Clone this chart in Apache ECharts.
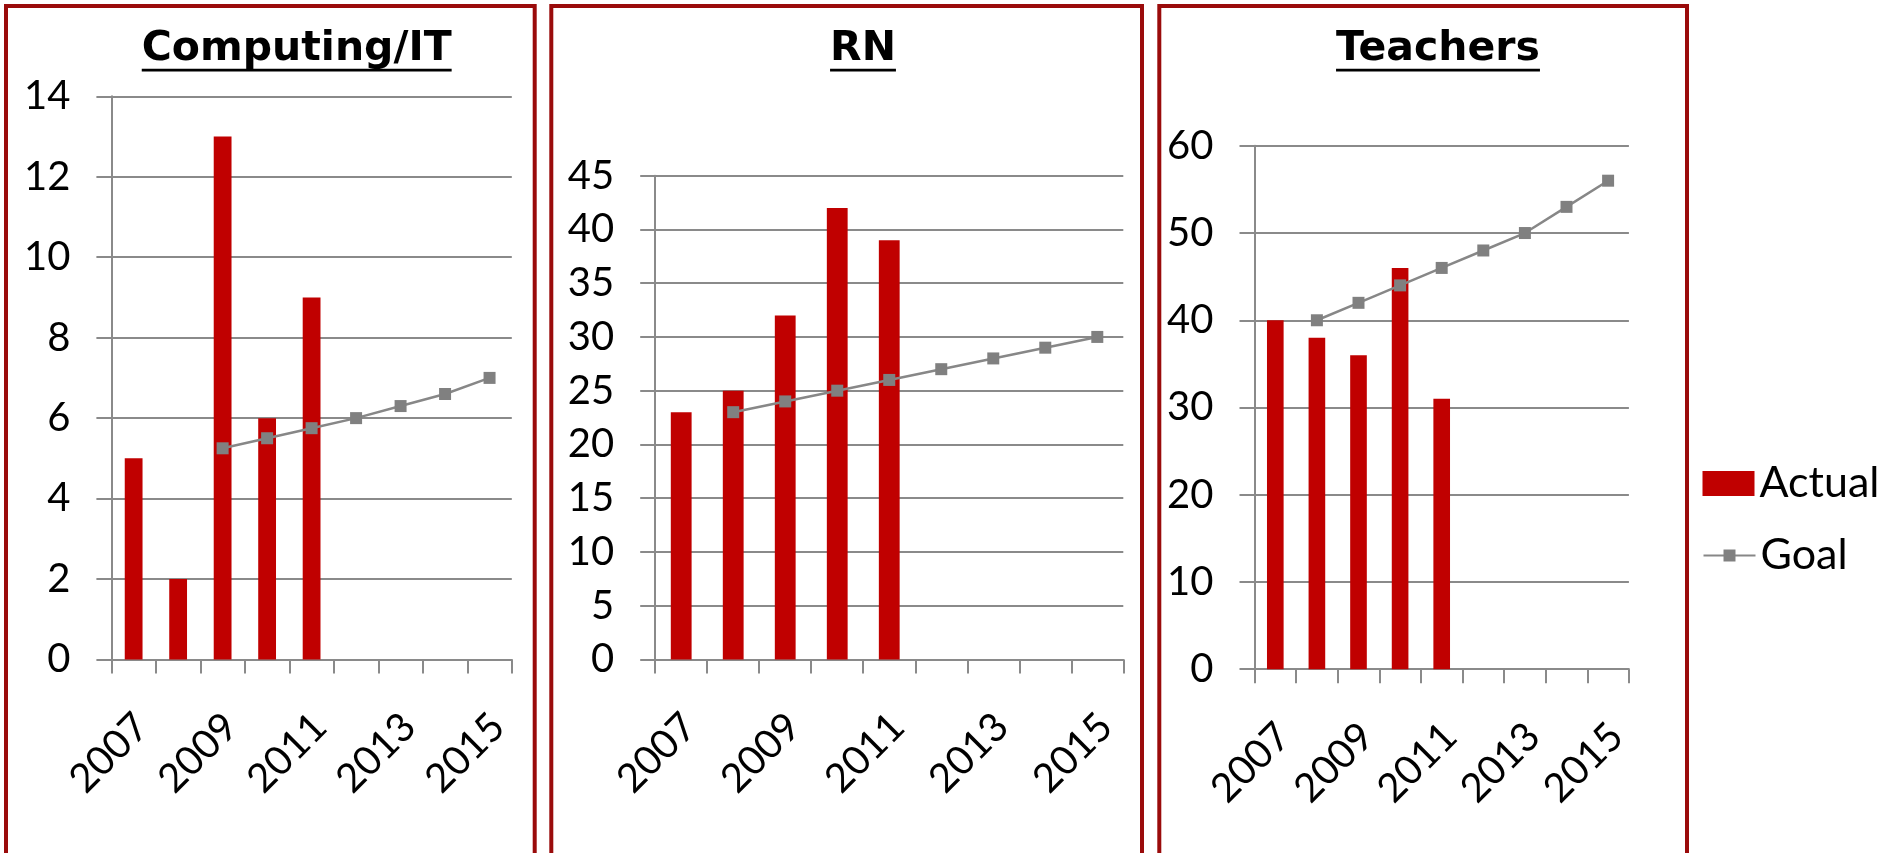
<!DOCTYPE html>
<html><head><meta charset="utf-8">
<script src="https://cdn.jsdelivr.net/npm/echarts@6/dist/echarts.min.js"></script>
<style>html,body{margin:0;padding:0;background:#fff}#c{width:1895px;height:853px}</style>
</head><body><div id="c"></div>
<script>
// ---- data ----
const years = ['2007','2008','2009','2010','2011','2012','2013','2014','2015'];
const panelTitles = ['Computing/IT', 'RN', 'Teachers'];
const computingActual = [5, 2, 13, 6, 9];
const computingGoal = [null, null, 5.25, 5.5, 5.75, 6, 6.3, 6.6, 7];
const rnActual = [23, 25, 32, 42, 39];
const rnGoal = [null, 23, 24, 25, 26, 27, 28, 29, 30];
const teachersActual = [40, 38, 36, 46, 31];
const teachersGoal = [null, 40, 42, 44, 46, 48, 50, 53, 56];
const yMax = [14, 45, 60];
const yStep = [2, 5, 10];
const seriesNames = ['Actual', 'Goal'];

// ---- layout / style ----
const grids = [
  {left: 111.4, top: 96.3, width: 400.4, height: 563.2},
  {left: 655.2, top: 175.7, width: 468.1, height: 483.7},
  {left: 1254.5, top: 145.8, width: 374.4, height: 523.4}
];
const panels = [[6, 528.7], [551.3, 590.7], [1159.3, 527.7]];
const titleCenters = [296.7, 863, 1438];
const gray = '#8a8a8a';
const labelFont = 'Lato, "Noto Sans", sans-serif';
const titleFont = '"DejaVu Sans", sans-serif';
const titleSize = 41;

const actuals = [computingActual, rnActual, teachersActual];
const goals = [computingGoal, rnGoal, teachersGoal];

const xAxes = [], yAxes = [], series = [];
grids.forEach((g, i) => {
  xAxes.push({
    type: 'category', gridIndex: i, data: years, boundaryGap: true,
    axisLine: {show: true, lineStyle: {color: gray, width: 2}},
    axisTick: {show: true, interval: 0, length: 14, lineStyle: {color: gray, width: 2}},
    axisLabel: {interval: 1, rotate: 45, fontSize: 40, fontFamily: labelFont, color: '#000',
      margin: 41, align: 'right', verticalAlign: 'top', padding: [0, 8, 0, 0]},
    splitLine: {show: false}
  });
  yAxes.push({
    type: 'value', gridIndex: i, min: 0, max: yMax[i], interval: yStep[i],
    axisLine: {show: true, lineStyle: {color: gray, width: 2}},
    axisTick: {show: true, length: 15, lineStyle: {color: gray, width: 2}},
    axisLabel: {fontSize: 40, fontFamily: labelFont, color: '#000', margin: 41},
    splitLine: {show: true, lineStyle: {color: gray, width: 2}}
  });
  series.push({
    name: seriesNames[0], type: 'bar', xAxisIndex: i, yAxisIndex: i,
    data: actuals[i], barWidth: '40%', itemStyle: {color: '#C00000'}
  });
  series.push({
    name: seriesNames[1], type: 'line', xAxisIndex: i, yAxisIndex: i,
    data: goals[i], symbol: 'rect', symbolSize: 12, showSymbol: true,
    lineStyle: {color: '#878787', width: 2.5}, itemStyle: {color: '#808080'}
  });
});

// measure title widths for underline
const cv = document.createElement('canvas').getContext('2d');
cv.font = 'bold ' + titleSize + 'px ' + titleFont;

const graphics = [];
panels.forEach(p => {
  graphics.push({type: 'rect', silent: true, z: 10,
    shape: {x: p[0], y: 6, width: p[1], height: 900},
    style: {fill: 'none', stroke: '#9A0B0B', lineWidth: 4}});
});
panelTitles.forEach((t, i) => {
  const w = cv.measureText(t).width;
  graphics.push({type: 'text', x: titleCenters[i], y: 49,
    style: {text: t, fontSize: titleSize, fontWeight: 'bold', fontFamily: titleFont,
      fill: '#000', align: 'center', verticalAlign: 'middle'}});
  graphics.push({type: 'rect', silent: true,
    shape: {x: titleCenters[i] - w / 2, y: 68.8, width: w, height: 2.6},
    style: {fill: '#000'}});
});

const legendText = {fontSize: 43, fontFamily: labelFont, color: '#000'};
const option = {
  backgroundColor: '#fff',
  animation: false,
  grid: grids.map(g => Object.assign({containLabel: false, outerBoundsMode: 'none'}, g)),
  xAxis: xAxes,
  yAxis: yAxes,
  series: series,
  legend: [
    {data: [seriesNames[0]], orient: 'vertical', left: 1702.5, top: 462, padding: 0,
      itemWidth: 52, itemHeight: 25, icon: 'rect', selectedMode: false, textStyle: legendText},
    {data: [seriesNames[1]], orient: 'vertical', left: 1702.5, top: 534, padding: 0,
      itemWidth: 52, itemHeight: 15, selectedMode: false, textStyle: legendText}
  ],
  graphic: graphics
};
const chart = echarts.init(document.getElementById('c'), null, {renderer: 'canvas'});
chart.setOption(option);
</script>
</body></html>
